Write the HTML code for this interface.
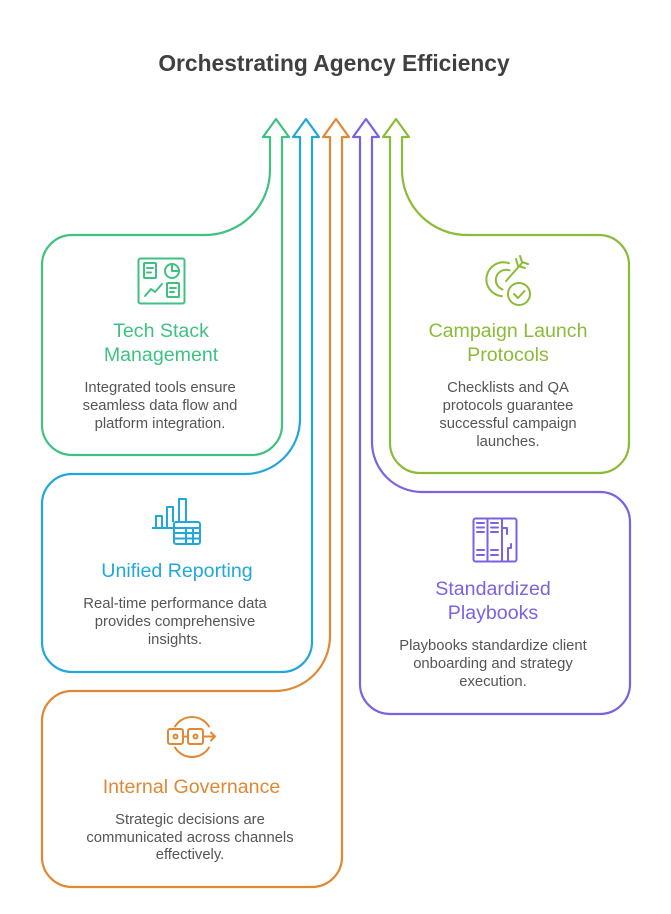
<!DOCTYPE html>
<html>
<head>
<meta charset="utf-8">
<style>
  html, body { margin: 0; padding: 0; background: #ffffff; }
  body { width: 671px; height: 914px; overflow: hidden; }
  svg { display: block; }
  .t { font-family: "Liberation Sans", Arial, sans-serif; }
  .title { font-size: 22.8px; font-weight: bold; fill: #404040; }
  .h { font-size: 19.6px; }
  .b { font-size: 14.8px; fill: #555555; }
</style>
</head>
<body>
<svg width="671" height="914" viewBox="0 0 671 914" xmlns="http://www.w3.org/2000/svg">
  <rect width="671" height="914" fill="#ffffff"/>

  <text class="t title" x="334" y="71" text-anchor="middle">Orchestrating Agency Efficiency</text>

  <g fill="none" stroke-width="2.2" stroke-linejoin="round">
    <!-- Green: Tech Stack -->
    <path stroke="#3fc281" d="M 276 119 L 289 137 L 282 137 L 282 425 A 30 30 0 0 1 252 455 L 72 455 A 30 30 0 0 1 42 425 L 42 265 A 30 30 0 0 1 72 235 L 205 235 A 65 65 0 0 0 270 170 L 270 137 L 263 137 Z"/>
    <!-- Blue: Unified Reporting -->
    <path stroke="#22a7da" d="M 306 119 L 319 137 L 312 137 L 312 642 A 30 30 0 0 1 282 672 L 72 672 A 30 30 0 0 1 42 642 L 42 504 A 30 30 0 0 1 72 474 L 245 474 A 55 55 0 0 0 300 419 L 300 137 L 293 137 Z"/>
    <!-- Orange: Internal Governance -->
    <path stroke="#e08833" d="M 336 119 L 349 137 L 342 137 L 342 857 A 30 30 0 0 1 312 887 L 72 887 A 30 30 0 0 1 42 857 L 42 721 A 30 30 0 0 1 72 691 L 275 691 A 55 55 0 0 0 330 636 L 330 137 L 323 137 Z"/>
    <!-- Purple: Standardized Playbooks -->
    <path stroke="#7c62e3" d="M 366 119 L 379 137 L 372 137 L 372 442 A 50 50 0 0 0 422 492 L 600 492 A 30 30 0 0 1 630 522 L 630 684 A 30 30 0 0 1 600 714 L 390 714 A 30 30 0 0 1 360 684 L 360 137 L 353 137 Z"/>
    <!-- Lime: Campaign Launch Protocols -->
    <path stroke="#8cbb38" d="M 396 119 L 409 137 L 402 137 L 402 170 A 65 65 0 0 0 467 235 L 599 235 A 30 30 0 0 1 629 265 L 629 443 A 30 30 0 0 1 599 473 L 420 473 A 30 30 0 0 1 390 443 L 390 137 L 383 137 Z"/>
  </g>

  <!-- Green icon -->
  <g fill="none" stroke="#3fc281" stroke-width="2" stroke-linecap="round" stroke-linejoin="round">
    <rect x="138.5" y="258.5" width="46" height="45" rx="2"/>
    <rect x="144" y="263" width="12" height="15" rx="1"/>
    <path d="M147 268 H153 M147 272.5 H151"/>
    <circle cx="172" cy="271" r="7"/>
    <path d="M172 264 V271 H179"/>
    <polyline points="145,296 151,289 155,292 162,284"/>
    <rect x="167" y="283" width="12" height="14" rx="1"/>
    <path d="M170 288 H176 M170 292 H174"/>
  </g>

  <!-- Blue icon -->
  <g fill="none" stroke="#22a7da" stroke-width="2" stroke-linejoin="round">
    <path d="M152 528 H174"/>
    <path d="M156 528 V516 H162 V528"/>
    <path d="M167 528 V507 H173 V522"/>
    <path d="M179 522 V499 H186 V522"/>
    <rect x="174" y="522" width="26" height="22" rx="2"/>
    <path d="M174 528 H200 M174 533 H200 M174 538.5 H200 M186 528 V544 M193 528 V544"/>
  </g>

  <!-- Orange icon -->
  <g fill="none" stroke="#e08833" stroke-width="2" stroke-linecap="round" stroke-linejoin="round">
    <path d="M175 726.5 A 20 20 0 0 1 209 726.5"/>
    <path d="M175 747.5 A 20 20 0 0 0 209 747.5"/>
    <rect x="168" y="729" width="15" height="15" rx="2"/>
    <rect x="188" y="729" width="15" height="15" rx="2"/>
    <circle cx="175.5" cy="736.5" r="2"/>
    <circle cx="195.5" cy="736.5" r="2"/>
    <path d="M183 736.5 H188 M203 736.5 H215 M211 732.5 L215 736.5 L211 740.5"/>
  </g>

  <!-- Lime icon -->
  <g fill="none" stroke="#8cbb38" stroke-width="2" stroke-linecap="round" stroke-linejoin="round">
    <path d="M509 263.2 A 17 17 0 1 0 502 296.2"/>
    <path d="M509.5 270.4 A 10 10 0 1 0 502.5 289.5"/>
    <path d="M506 281 L522 263"/>
    <path d="M516 259 L518 266 L525 268"/>
    <path d="M520 256 L522 262 L528 264"/>
    <circle cx="519" cy="294" r="11" fill="#ffffff"/>
    <path d="M514 294 L518 298 L524.5 291"/>
  </g>

  <!-- Purple icon -->
  <g fill="none" stroke="#7c62e3" stroke-width="2" stroke-linecap="round" stroke-linejoin="round">
    <rect x="473.5" y="518.5" width="43" height="43" rx="2"/>
    <path d="M487.5 518.5 V561.5 M502 518.5 V561.5"/>
    <path d="M477 523 H484 M477 527.5 H484 M477 532 H484 M477 550 H484 M477 555 H484"/>
    <path d="M491 523 H498 M491 527.5 H498 M491 532 H498 M491 550 H498 M491 555 H498"/>
    <path d="M502 528 H507 V534"/>
    <path d="M508 561 V548 H511 V544"/>
  </g>

  <g class="t" text-anchor="middle">
    <text class="h" x="161" y="337" fill="#3fc281">Tech Stack</text>
    <text class="h" x="161" y="361" fill="#3fc281">Management</text>
    <text class="b" x="160" y="392">Integrated tools ensure</text>
    <text class="b" x="160" y="410">seamless data flow and</text>
    <text class="b" x="160" y="428">platform integration.</text>

    <text class="h" x="177" y="577" fill="#22a7da">Unified Reporting</text>
    <text class="b" x="175" y="608">Real-time performance data</text>
    <text class="b" x="175" y="626">provides comprehensive</text>
    <text class="b" x="175" y="644">insights.</text>

    <text class="h" x="191.5" y="793" fill="#e08833">Internal Governance</text>
    <text class="b" x="190" y="824">Strategic decisions are</text>
    <text class="b" x="190" y="842">communicated across channels</text>
    <text class="b" x="190" y="859">effectively.</text>

    <text class="h" x="508" y="337" fill="#8cbb38">Campaign Launch</text>
    <text class="h" x="508" y="361" fill="#8cbb38">Protocols</text>
    <text class="b" x="508" y="392">Checklists and QA</text>
    <text class="b" x="508" y="410">protocols guarantee</text>
    <text class="b" x="508" y="428">successful campaign</text>
    <text class="b" x="508" y="446">launches.</text>

    <text class="h" x="493" y="595" fill="#7c62e3">Standardized</text>
    <text class="h" x="493" y="619" fill="#7c62e3">Playbooks</text>
    <text class="b" x="493" y="650">Playbooks standardize client</text>
    <text class="b" x="493" y="668">onboarding and strategy</text>
    <text class="b" x="493" y="686">execution.</text>
  </g>
</svg>
</body>
</html>
